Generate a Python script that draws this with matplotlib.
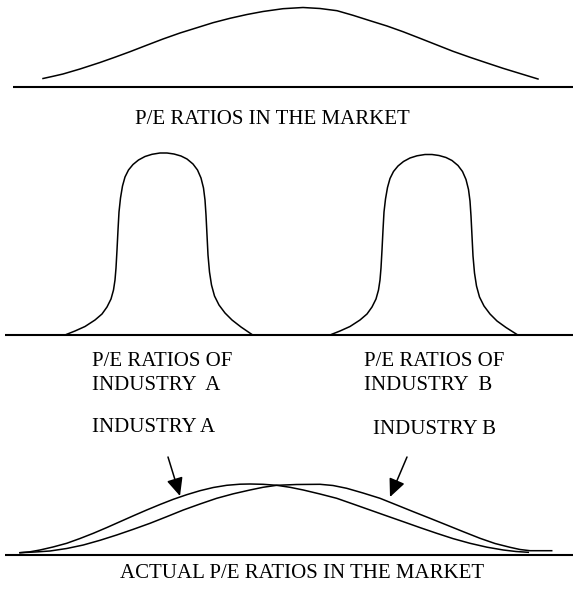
import matplotlib.pyplot as plt

plt.rcParams['font.family'] = ['Liberation Serif', 'DejaVu Serif']

# curves, in picture pixels (x right, y down)
market_x = [43, 53, 63, 80, 100, 115, 130, 146, 163, 180, 197, 213, 230, 247, 263, 283, 303,
            320, 337, 353, 370, 387, 403, 420, 437, 453, 470, 487, 503, 520, 538]
market_y = [78.5, 76.3, 74, 69, 62.5, 57.2, 51.7, 45.5, 39, 33, 27.7, 22.7, 18.3, 14.5, 11.5, 8.7, 7.5,
            8.5, 10.7, 15.3, 20.7, 26, 31.7, 38.3, 45, 51.3, 57.3, 63, 68.3, 73.5, 79]

ind_a_x = [66.7, 75, 85, 95, 102, 107, 111, 113.5, 115, 116, 117, 118, 119, 120.5, 122.5, 125,
           128.5, 133, 138.5, 145, 152, 160, 167, 174, 181, 187, 193, 197.5, 201, 203.5, 205,
           206, 207, 208, 209.5, 211.5, 214.5, 219, 225, 232, 241, 251.7]
ind_a_y = [334.3, 331, 326.5, 320, 314, 307, 299, 290, 280, 268, 250, 230, 212, 198, 186, 177,
           170, 164.5, 160, 156.5, 154.3, 153, 153, 154, 156, 159, 164, 170, 178, 188, 200,
           215, 235, 255, 272, 285, 296, 305, 313, 320, 327, 334.3]

ind_b_x = [331.7, 340, 350, 360, 367, 372, 376, 378.5, 380, 381, 382, 383, 384, 385.5, 387.5, 390,
           393.5, 398, 403.5, 410, 417, 425, 432, 439, 446, 452, 458, 462.5, 466, 468.5, 470,
           471, 472, 473, 474.5, 476.5, 479.5, 484, 490, 497, 506, 516.7]
ind_b_y = [334.3, 331, 326.5, 320, 314, 307, 299, 290, 280, 268, 250, 230, 212, 199, 187.5, 178.5,
           171.5, 166, 161.5, 158, 155.8, 154.5, 154.5, 155.5, 157.5, 160.5, 165.5, 171.5, 179.5, 189.5, 201,
           216, 236, 256, 273, 286, 297, 306, 314, 321, 327.5, 334.3]

actual_a_x = [20, 30, 40, 53, 66.7, 80, 93.3, 106.7, 120, 133.3, 146.7, 160, 173.3, 186.7, 200,
              213.3, 226.7, 240, 250, 263, 276.7, 290, 303.3, 320, 336.7, 353, 370, 387, 403.3,
              420, 436.7, 453, 470, 487, 503.3, 516, 528.3]
actual_a_y = [552.7, 551.8, 550, 547, 543.3, 538.5, 533.3, 527.6, 521.7, 515.8, 510, 504.5, 499.3,
              494.7, 490.7, 487.5, 485.3, 484.2, 484, 484.3, 485.3, 487.3, 490, 494, 498.3, 504,
              510, 516, 521.7, 527.6, 533.3, 538.6, 543.3, 547.2, 550, 551.5, 552.3]

actual_b_x = [20, 35, 50, 66.7, 83.3, 100, 116.7, 133.3, 150, 166.7, 183.3, 200, 216.7, 233.3, 250,
              263, 276.7, 296.7, 320, 333, 346.7, 363, 380, 396.7, 413.3, 430, 446.7, 463.3, 480,
              495, 510, 520, 530, 551.7]
actual_b_y = [552.7, 552, 551, 548.5, 545, 540.3, 535, 529.3, 523.3, 516.7, 510, 504, 498.3, 493.8,
              490, 487.3, 485.3, 484.5, 484.3, 485.5, 488.3, 493, 498.3, 505, 511.7, 518.3, 525,
              531.7, 538.3, 543.5, 547.3, 549.5, 550.7, 550.7]

# baselines: (y, x start, x end)
baselines = [(87, 13, 573), (335, 5, 573), (555, 5, 573)]

fig = plt.figure(figsize=(5.73, 5.89), dpi=100)
ax = fig.add_axes([0, 0, 1, 1])
ax.set_xlim(0, 573)
ax.set_ylim(589, 0)
ax.axis('off')

for y, x0, x1 in baselines:
    ax.plot([x0, x1], [y, y], color='black', lw=1.5, solid_capstyle='butt')

for xs, ys in [(market_x, market_y), (ind_a_x, ind_a_y), (ind_b_x, ind_b_y),
               (actual_a_x, actual_a_y), (actual_b_x, actual_b_y)]:
    ax.plot(xs, ys, color='black', lw=1.1, solid_joinstyle='round')

fs = 15
ax.text(272, 119, 'P/E RATIOS IN THE MARKET', ha='center', va='center', fontsize=fs)
ax.text(92, 362, 'P/E RATIOS OF', ha='left', va='center', fontsize=fs)
ax.text(92, 386, 'INDUSTRY  A', ha='left', va='center', fontsize=fs)
ax.text(364, 362, 'P/E RATIOS OF', ha='left', va='center', fontsize=fs)
ax.text(364, 386, 'INDUSTRY  B', ha='left', va='center', fontsize=fs)
ax.text(92, 428, 'INDUSTRY A', ha='left', va='center', fontsize=fs)
ax.text(373, 429, 'INDUSTRY B', ha='left', va='center', fontsize=fs)
ax.text(302, 574, 'ACTUAL P/E RATIOS IN THE MARKET', ha='center', va='center', fontsize=fs)

# arrows pointing at each industry's curve
arrow = dict(arrowstyle='-|>,head_length=1.1,head_width=0.5', color='black', lw=1.1,
             shrinkA=0, shrinkB=0)
ax.annotate('', xy=(180, 496), xytext=(168, 457), arrowprops=arrow)
ax.annotate('', xy=(390, 497), xytext=(407, 457), arrowprops=arrow)

fig.savefig('out.png', dpi=100)
